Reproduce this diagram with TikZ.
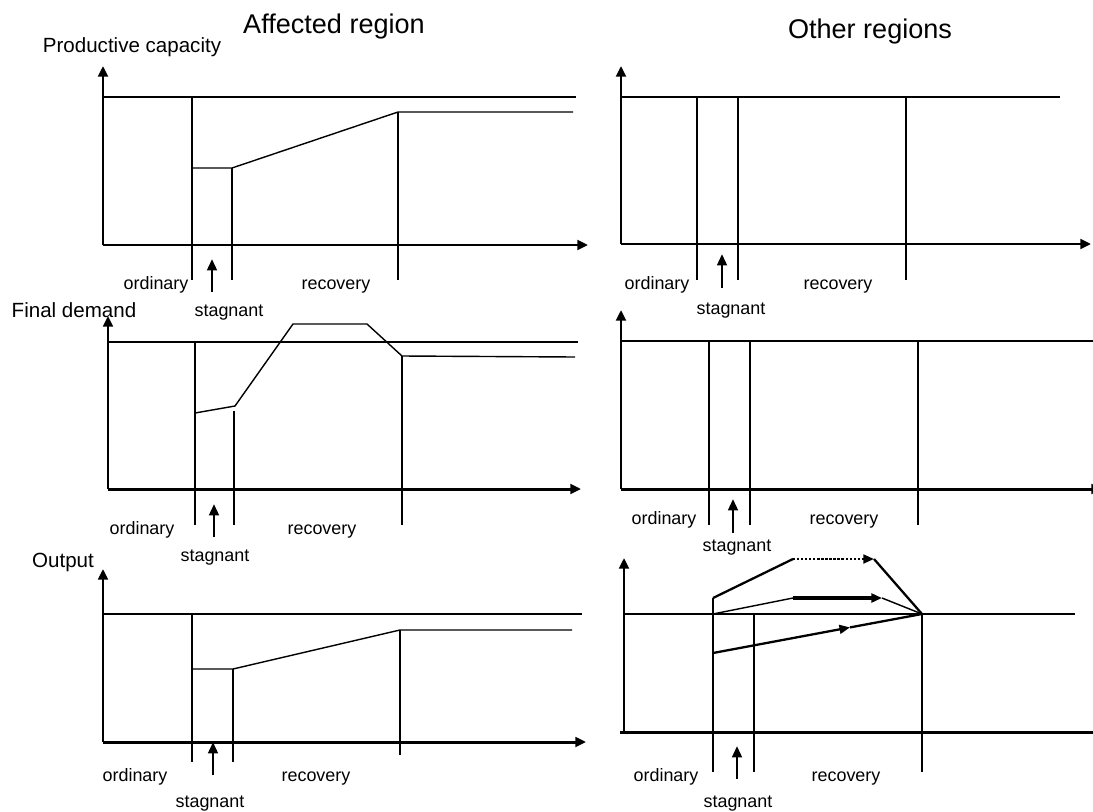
\documentclass[tikz,border=0pt]{standalone}
\usepackage{fontspec}
\setmainfont{Liberation Sans}
\usetikzlibrary{arrows.meta}

\tikzset{
  axis/.style={line width=1.7pt,-{Triangle[length=6pt,width=5.5pt]}},
  thin/.style={line width=0.8pt},
  bold/.style={line width=1.3pt},
  pointer/.style={line width=1.5pt,-{Triangle[length=6.5pt,width=5.5pt]}},
  phasetext/.style={font=\fontsize{10.2}{12}\selectfont,inner sep=0pt,
    text height=7.4pt,text depth=2.1pt},
  axistitle/.style={font=\fontsize{11.7}{14}\selectfont,inner sep=0pt,
    text height=8.5pt,text depth=2.4pt},
  header/.style={font=\fontsize{15.4}{18}\selectfont,inner sep=0pt,
    text height=11.1pt,text depth=3.2pt}
}

\begin{document}
\begin{tikzpicture}[x=0.02cm,y=-0.02cm]
  \useasboundingbox (0,0) rectangle (1093,812);

  % headers and axis titles
  \node[header] (hl) at (334,27) {Affected region};
  \node[header] (hr) at (870,32) {Other regions};
  \node[axistitle] (tcap) at (132,47) {Productive capacity};
  \node[axistitle] (tdem) at (74,312) {Final demand};
  \node[axistitle] (tout) at (63,562) {Output};

  % phase labels
  \begin{scope}[every node/.style={phasetext}]
    \node (o1) at (156,285) {ordinary};
    \node (r1) at (336,285) {recovery};
    \node (s1) at (229,312) {stagnant};
    \node (o2) at (142,530) {ordinary};
    \node (r2) at (322,530) {recovery};
    \node (s2) at (215,557) {stagnant};
    \node (o3) at (135,777) {ordinary};
    \node (r3) at (316,777) {recovery};
    \node (s3) at (210,803) {stagnant};
    \node (o4) at (657,285) {ordinary};
    \node (r4) at (838,285) {recovery};
    \node (s4) at (731,310) {stagnant};
    \node (o5) at (664,520) {ordinary};
    \node (r5) at (844,520) {recovery};
    \node (s5) at (737,547) {stagnant};
    \node (o6) at (666,777) {ordinary};
    \node (r6) at (846,777) {recovery};
    \node (s6) at (738,803) {stagnant};
  \end{scope}

  % axes
  \draw[axis] (103,245) -- (103,66);
  \draw[axis] (103,245) -- (588,245);
  \draw[axis] (108,489) -- (108,316);
  \draw[axis] (108,489) -- (581,489);
  \draw[axis] (103,742) -- (103,569);
  \draw[axis] (103,742) -- (586,742);
  \draw[axis] (621,244) -- (621,66);
  \draw[axis] (621,244) -- (1091,244);
  \draw[axis] (621,489) -- (621,310);
  \draw[axis] (621,489) -- (1102,489);
  \draw[axis] (624,732) -- (624,558);
  \draw[axis] (620,732) -- (1104,732);

  % pointers to the stagnant phase
  \draw[pointer] (212,292) -- (212,259);
  \draw[pointer] (214,537) -- (214,504);
  \draw[pointer] (213,775) -- (213,742);
  \draw[pointer] (722,288) -- (722,254);
  \draw[pointer] (733,533) -- (733,499);
  \draw[pointer] (737,779) -- (737,746);

  \begin{scope}[thin]
    % productive capacity, affected region
    \draw (103,97) -- (576,97);
    \draw (192,97) -- (192,280);
    \draw (192,168) -- (232,168) -- (398,112) -- (573,112);
    \draw (232,168) -- (232,280);
    \draw (398,112) -- (398,280);

    % final demand, affected region
    \draw (108,342) -- (578,342);
    \draw (195,342) -- (195,525);
    \draw (195,413) -- (235,406) -- (293,324) -- (367,324) -- (402,356) -- (575,357);
    \draw (234,411) -- (234,525);
    \draw (402,356) -- (402,525);

    % output, affected region
    \draw (103,614) -- (582,614);
    \draw (192,614) -- (192,762);
    \draw (192,669) -- (233,669) -- (400,630) -- (572,630);
    \draw (233,669) -- (233,762);
    \draw (400,630) -- (400,755);

    % other regions
    \draw (621,97) -- (1060,97);
    \draw (697,97) -- (697,280);
    \draw (738,97) -- (738,280);
    \draw (906,97) -- (906,280);

    \draw (621,341) -- (1093,341);
    \draw (709,341) -- (709,525);
    \draw (750,341) -- (750,525);
    \draw (918,341) -- (918,525);

    \draw (624,614) -- (1075,614);
    \draw (713,598) -- (713,772);
    \draw (754,613) -- (754,772);
    \draw (922,614) -- (922,772);
  \end{scope}

  % output paths in other regions
  \coordinate (u0) at (713,598);
  \coordinate (u1) at (793,559);
  \coordinate (u2) at (874,559);
  \coordinate (m0) at (713,614);
  \coordinate (m1) at (793,598);
  \coordinate (m2) at (882,598);
  \coordinate (l0) at (713,653);
  \coordinate (l1) at (850,627.4);
  \coordinate (e) at (922,614);

  \draw[bold] (u0) -- (u1);
  \draw[bold,densely dotted,-{Triangle[length=6pt,width=5pt]}] (u1) -- (u2);
  \draw[bold] (u2) -- (e);
  \draw[thin] (m0) -- (m1);
  \draw[line width=1.8pt,-{Triangle[length=6pt,width=5pt]}] (m1) -- (m2);
  \draw[thin] (m2) -- (e);
  \draw[bold,-{Triangle[length=6pt,width=5pt]}] (l0) -- (l1);
  \draw[bold] (l1) -- (e);

\end{tikzpicture}
\end{document}
